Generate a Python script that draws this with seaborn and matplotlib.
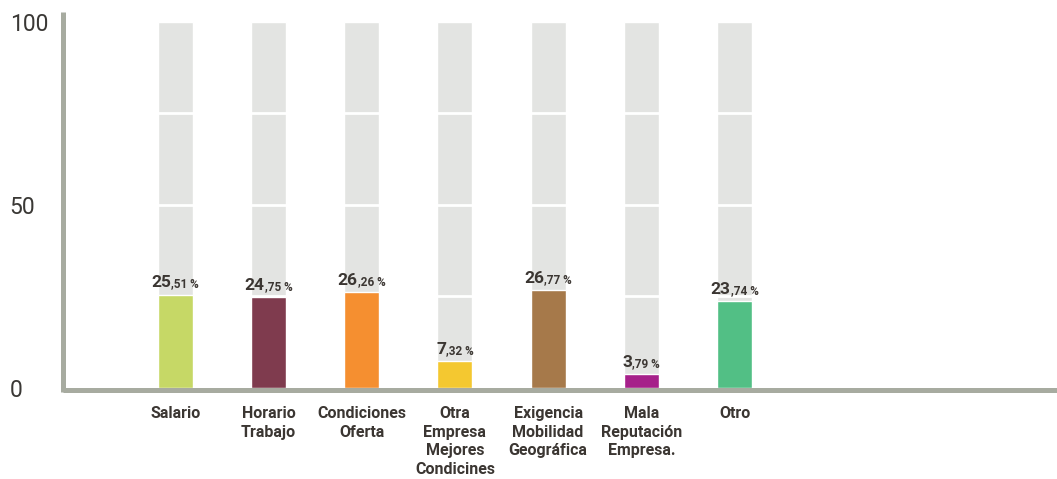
import numpy as np
import pandas as pd
import matplotlib
matplotlib.use('Agg')
import matplotlib.pyplot as plt
import seaborn as sns
from matplotlib.offsetbox import TextArea, HPacker, AnnotationBbox

categorias = ['Salario', 'Horario\nTrabajo', 'Condiciones\nOferta',
              'Otra\nEmpresa\nMejores\nCondicines', 'Exigencia\nMobilidad\nGeográfica',
              'Mala\nReputación\nEmpresa.', 'Otro']
porcentajes = [25.51, 24.75, 26.26, 7.32, 26.77, 3.79, 23.74]
colores = ['#c6d866', '#7f3b4e', '#f58f30', '#f4c830', '#a6794a', '#a6208a', '#52bf85']
fondo = [100] * len(categorias)
ticks_y = [0, 50, 100]

sns.set_style('white')
plt.rcParams['font.family'] = ['Roboto', 'DejaVu Sans']

df = pd.DataFrame({'Motivo': categorias, 'Porcentaje': porcentajes, 'Fondo': fondo})

fig = plt.figure(figsize=(10.57, 4.79), dpi=100)
ax = fig.add_axes([62.5 / 1057, 89.5 / 479, 1 - 62.5 / 1057, (467 - 89.5) / 479])

# barras grises de fondo (100 %)
sns.barplot(data=df, x='Motivo', y='Fondo', color='#e3e4e2', width=0.376,
            saturation=1, ax=ax, zorder=1)
for g in [25, 50, 75]:
    ax.axhline(g, color='white', lw=2, zorder=1.5)
sns.barplot(data=df, x='Motivo', y='Porcentaje', hue='Motivo', palette=colores,
            width=0.376, saturation=1, legend=False, ax=ax, zorder=2)

txt = '#3b3632'
for i, v in enumerate(porcentajes):
    entero, dec = f'{v:.2f}'.split('.')
    big = TextArea(entero, textprops=dict(fontsize=12.5, fontweight='bold', color=txt))
    small = TextArea(',' + dec + ' %', textprops=dict(fontsize=8.5, fontweight='bold', color=txt))
    box = HPacker(children=[big, small], align='baseline', pad=0, sep=0)
    ab = AnnotationBbox(box, (i, v), xybox=(0, 3), xycoords='data',
                        boxcoords='offset points', box_alignment=(0.5, 0),
                        frameon=False, pad=0)
    ax.add_artist(ab)

ax.set_xlim(-1.21, 9.46)
ax.set_ylim(-0.4, 102.7)
ax.set_yticks(ticks_y)
ax.set_yticklabels([str(t) for t in ticks_y], fontsize=16.5, fontweight='normal',
                   color='#3a3835', ha='left')
ax.tick_params(axis='y', length=0, pad=38)
ax.tick_params(axis='x', length=0, pad=12)
for lbl in ax.get_xticklabels():
    lbl.set_fontsize(11.5)
    lbl.set_fontweight('bold')
    lbl.set_color(txt)
    lbl.set_linespacing(1.3)
    lbl.set_verticalalignment('top')
ax.set_xlabel('')
ax.set_ylabel('')

for s in ['top', 'right']:
    ax.spines[s].set_visible(False)
for s in ['left', 'bottom']:
    ax.spines[s].set_color('#a7aba0')
    ax.spines[s].set_linewidth(3.6)
    ax.spines[s].set_capstyle('butt')
ax.spines['left'].set_bounds(-1.0, 102.7)

fig.savefig('out.png', dpi=100)
